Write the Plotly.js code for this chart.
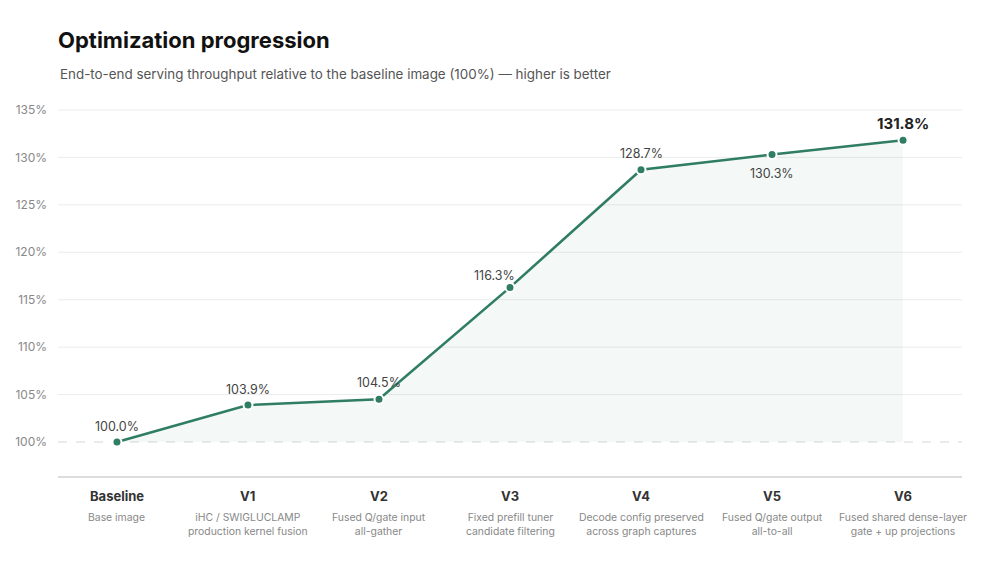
<!DOCTYPE html>
<html>
<head>
<meta charset="utf-8">
<script src="https://cdn.plot.ly/plotly-3.0.1.min.js"></script>
<style>html,body{margin:0;padding:0;background:#fff;}#chart{width:1000px;height:563px;}</style>
</head>
<body>
<div id="chart"></div>
<script>
const categories = ["Baseline", "V1", "V2", "V3", "V4", "V5", "V6"];
const descriptions = [
  "Base image",
  "iHC / SWIGLUCLAMP<br>production kernel fusion",
  "Fused Q/gate input<br>all-gather",
  "Fixed prefill tuner<br>candidate filtering",
  "Decode config preserved<br>across graph captures",
  "Fused Q/gate output<br>all-to-all",
  "Fused shared dense-layer<br>gate + up projections"
];
const throughput = [100.0, 103.9, 104.5, 116.3, 128.7, 130.3, 131.8];
const baselineLevel = [100, 100, 100, 100, 100, 100, 100];
const yTicks = [100, 105, 110, 115, 120, 125, 130, 135];
const yTickLabels = ["100%", "105%", "110%", "115%", "120%", "125%", "130%", "135%"];

const green = "#2f7d63";
const font = "Inter, 'Noto Sans', sans-serif";

// label placement (style only)
const labelShift = [
  {x: 0, y: 16}, {x: 0, y: 16}, {x: 0, y: 17}, {x: -16, y: 12},
  {x: 0, y: 16}, {x: 0, y: -19}, {x: 0, y: 17}
];

const traces = [
  {x: categories, y: baselineLevel, type: "scatter", mode: "lines",
   line: {width: 0, color: "rgba(0,0,0,0)"}, hoverinfo: "skip", showlegend: false},
  {x: categories, y: throughput, type: "scatter", mode: "lines+markers",
   fill: "tonexty", fillcolor: "rgba(47,125,99,0.05)",
   line: {color: green, width: 2.6},
   marker: {color: green, size: 9, line: {color: "#fff", width: 2}},
   showlegend: false}
];

const shapes = yTicks.map(v => ({
  type: "line", xref: "paper", x0: 0, x1: 1, yref: "y", y0: v, y1: v,
  line: {color: v === 100 ? "#d6d6d6" : "#ececec", width: 1, dash: v === 100 ? "dash" : "solid"},
  layer: "below"
}));

const annotations = [];
annotations.push({
  xref: "paper", yref: "paper", x: 0, y: 1.069, xanchor: "left", yanchor: "middle",
  text: "End-to-end serving throughput relative to the baseline image (100%) — higher is better",
  showarrow: false, font: {family: font, size: 13.4, color: "#555"}
});
categories.forEach((c, i) => {
  const last = i === categories.length - 1;
  annotations.push({
    x: c, y: throughput[i], xref: "x", yref: "y",
    text: last ? "<b>" + throughput[i].toFixed(1) + "%</b>" : throughput[i].toFixed(1) + "%",
    showarrow: false, xshift: labelShift[i].x, yshift: labelShift[i].y,
    font: {family: font, size: last ? 15 : 12.5, color: last ? "#222" : "#444"}
  });
  annotations.push({
    x: c, y: -0.053, xref: "x", yref: "paper", yanchor: "middle",
    text: "<b>" + c + "</b>", showarrow: false,
    font: {family: font, size: 13, color: "#333"}
  });
  annotations.push({
    x: c, y: -0.087, xref: "x", yref: "paper", yanchor: "top",
    text: descriptions[i], showarrow: false,
    font: {family: font, size: 10.4, color: "#888"}
  });
});

const layout = {
  width: 1000, height: 563,
  paper_bgcolor: "#fff", plot_bgcolor: "#fff",
  margin: {l: 58, r: 38, t: 100, b: 87},
  title: {text: "<b>Optimization progression</b>", x: 0.058, xanchor: "left",
          y: 0.929, yanchor: "middle", yref: "container",
          font: {family: font, size: 22, color: "#111"}},
  xaxis: {type: "category", range: [-0.45, 6.45], showgrid: false, zeroline: false,
          showticklabels: false, showline: true, linecolor: "#dcdcdc", linewidth: 2,
          fixedrange: true},
  yaxis: {range: [96.42, 136.05], tickmode: "array", tickvals: yTicks, ticktext: yTickLabels,
          showgrid: false, zeroline: false, showline: false, ticklabelstandoff: 10,
          tickfont: {family: font, size: 12, color: "#888"}, fixedrange: true},
  shapes: shapes,
  annotations: annotations,
  showlegend: false,
  hovermode: false
};

Plotly.newPlot("chart", traces, layout, {displayModeBar: false, staticPlot: true});
</script>
</body>
</html>
